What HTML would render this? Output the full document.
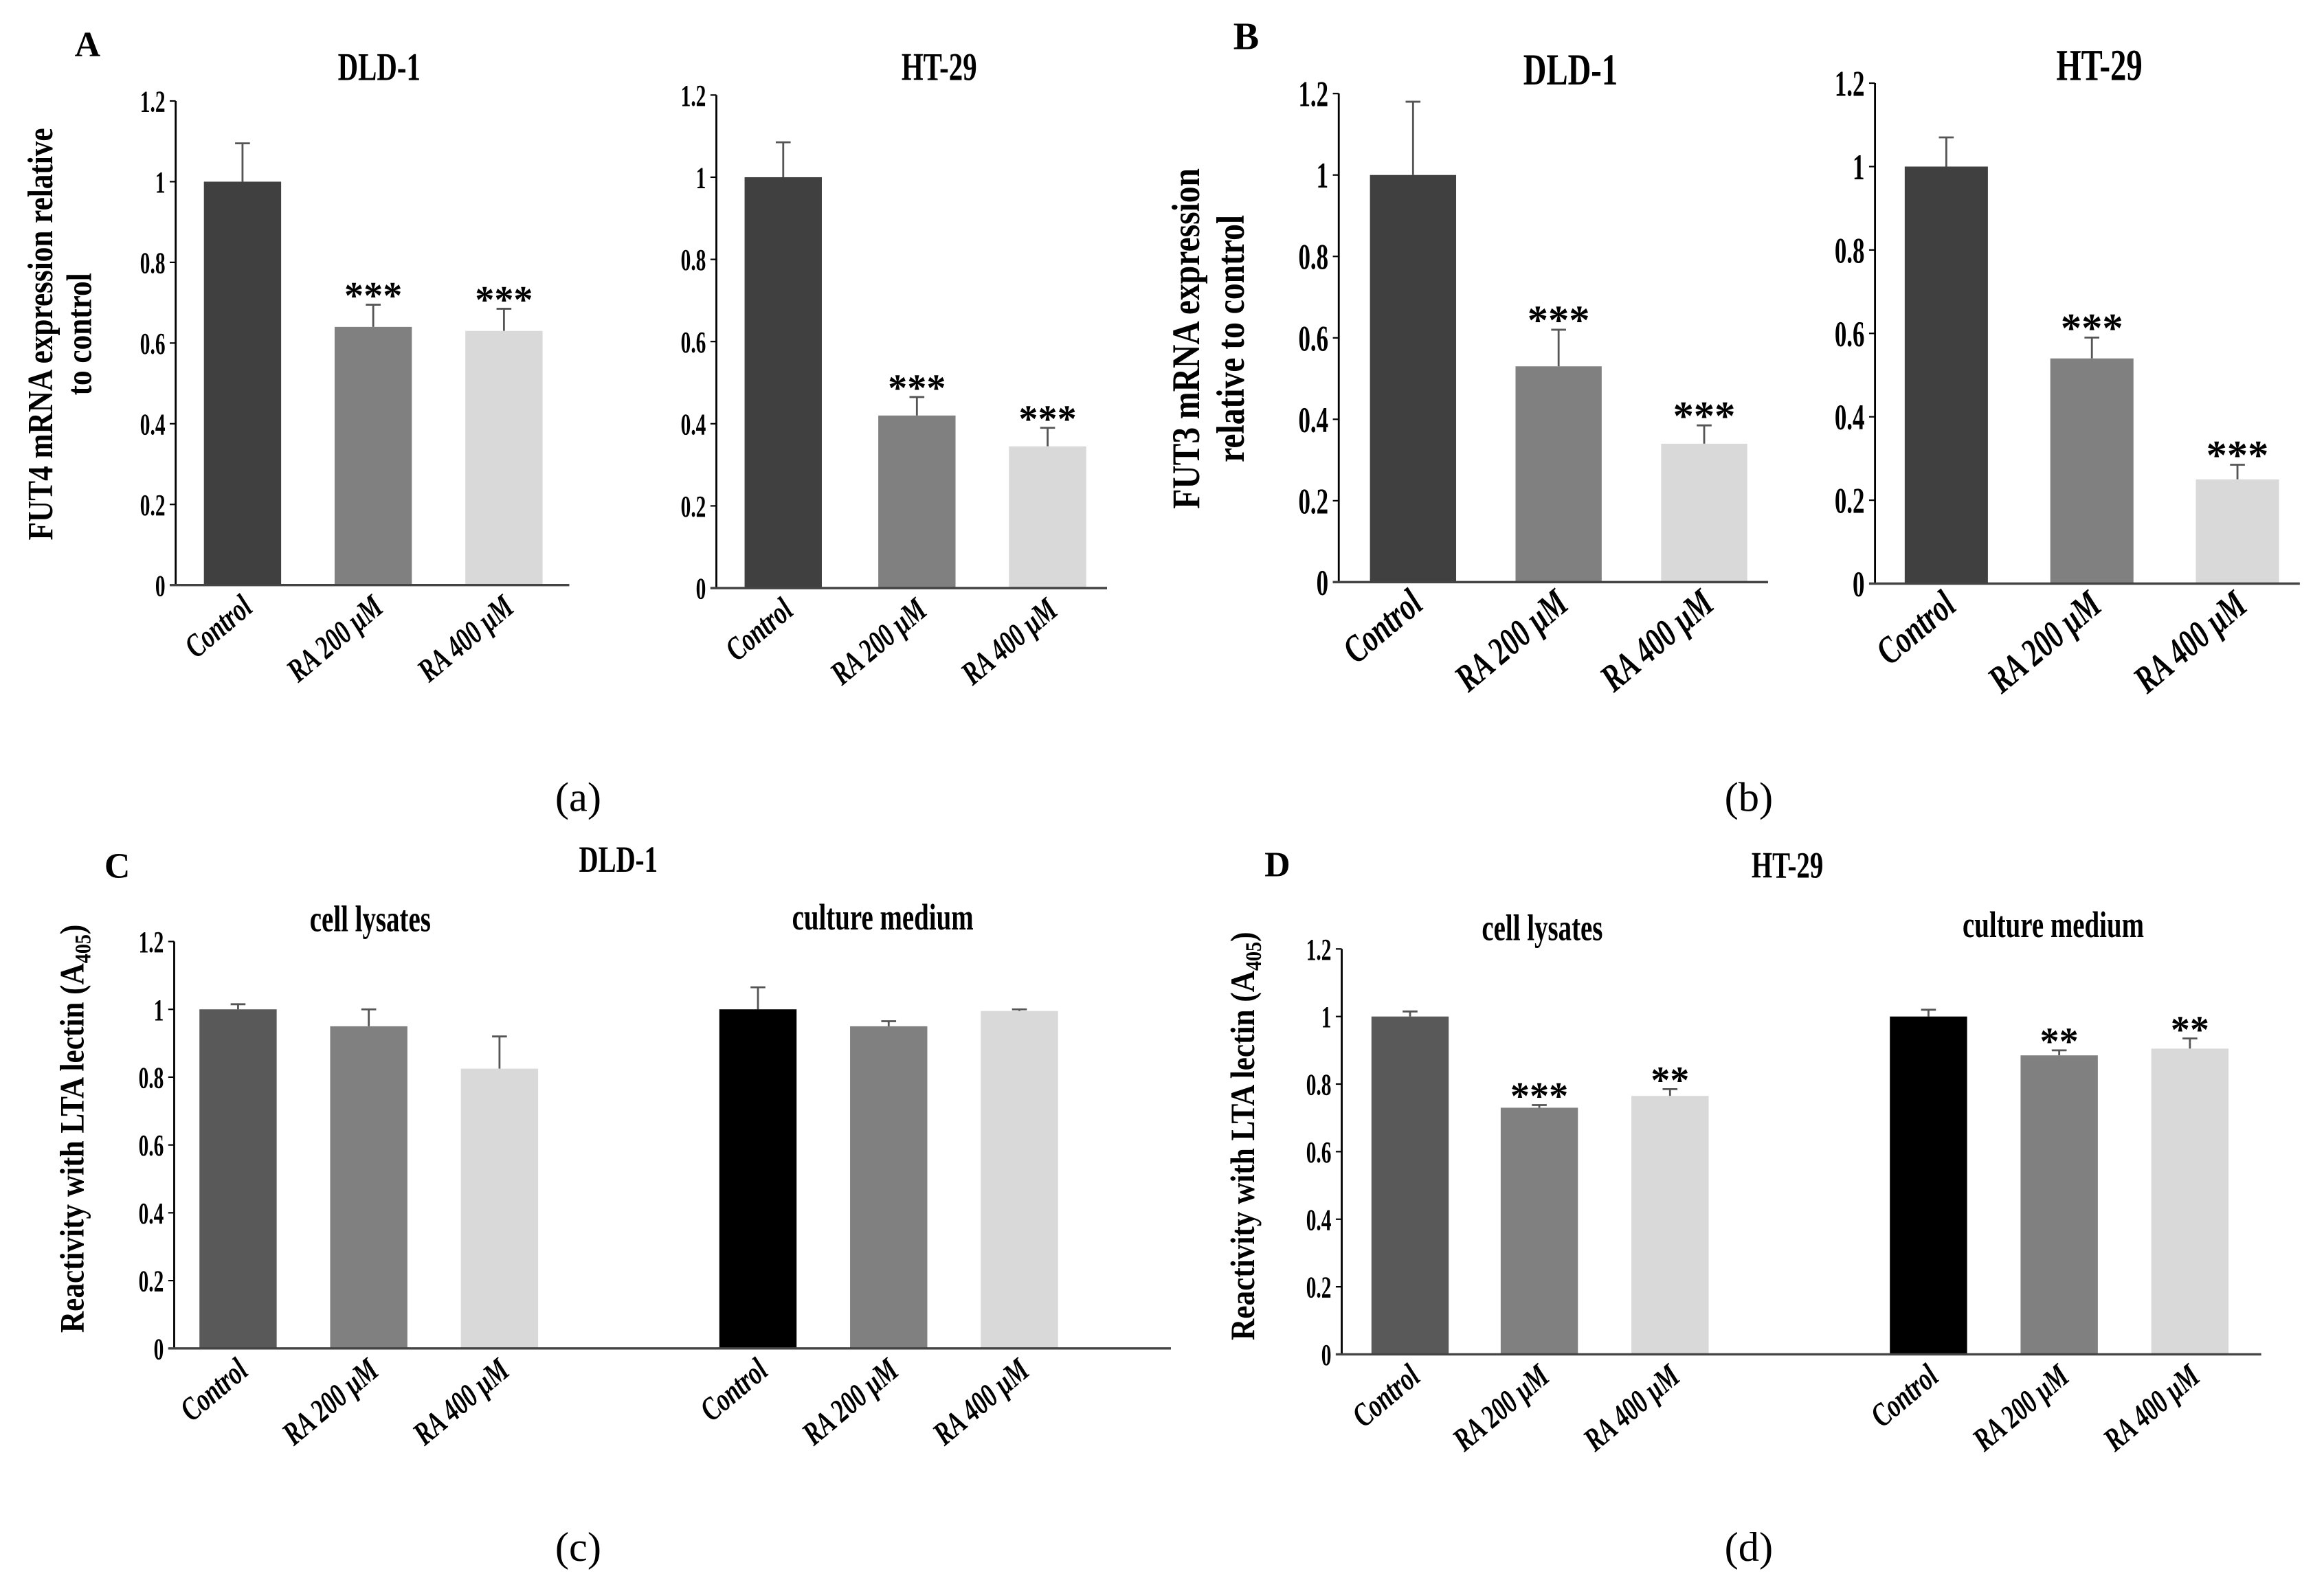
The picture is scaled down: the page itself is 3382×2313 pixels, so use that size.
<!DOCTYPE html>
<html><head><meta charset="utf-8"><style>
html,body{margin:0;padding:0;background:#fff;}
svg{display:block;}
text{font-family:"Liberation Serif",serif;font-weight:bold;fill:#000;}
</style></head>
<body>
<svg id="fig" width="3382" height="2313" viewBox="0 0 1564 1070" xmlns="http://www.w3.org/2000/svg">
<g>
<text x="50" y="38" font-size="24">A</text>
<text x="830" y="33" font-size="26">B</text>
<text x="70" y="591" font-size="24">C</text>
<text x="851" y="590" font-size="24">D</text>
<text x="389" y="546" font-size="28" text-anchor="middle" style="font-weight:normal">(a)</text>
<text x="1177" y="546" font-size="28" text-anchor="middle" style="font-weight:normal">(b)</text>
<text x="389" y="1051" font-size="28" text-anchor="middle" style="font-weight:normal">(c)</text>
<text x="1177" y="1051" font-size="28" text-anchor="middle" style="font-weight:normal">(d)</text>
<text transform="translate(35,225) rotate(-90) scale(1,1.2)" font-size="20" text-anchor="middle">FUT4 mRNA expression relative</text>
<text transform="translate(61,225) rotate(-90) scale(1,1.2)" font-size="20" text-anchor="middle">to control</text>
<text transform="translate(807,228) rotate(-90) scale(1,1.2)" font-size="22" text-anchor="middle">FUT3 mRNA expression</text>
<text transform="translate(837,228) rotate(-90) scale(1,1.2)" font-size="22" text-anchor="middle">relative to control</text>
<text transform="translate(56,760) rotate(-90) scale(1,1.15)" font-size="20" text-anchor="middle">Reactivity with LTA lectin (A<tspan font-size="13" dy="4">405</tspan><tspan dy="-4">)</tspan></text>
<text transform="translate(844,765) rotate(-90) scale(1,1.15)" font-size="20" text-anchor="middle">Reactivity with LTA lectin (A<tspan font-size="13" dy="4">405</tspan><tspan dy="-4">)</tspan></text>
<text transform="translate(416,587) scale(0.9,1.25)" font-size="20" text-anchor="middle">DLD-1</text>
<text transform="translate(249,627) scale(0.9,1.25)" font-size="20" text-anchor="middle">cell lysates</text>
<text transform="translate(594,626) scale(0.9,1.25)" font-size="20" text-anchor="middle">culture medium</text>
<text transform="translate(1203,591) scale(0.9,1.25)" font-size="20" text-anchor="middle">HT-29</text>
<text transform="translate(1038,633) scale(0.9,1.25)" font-size="20" text-anchor="middle">cell lysates</text>
<text transform="translate(1382,631) scale(0.9,1.25)" font-size="20" text-anchor="middle">culture medium</text>
</g>
</svg>
<script>
// Data arrays
const categories = ["Control", "RA 200 μM", "RA 400 μM"];
const yTicks = [0, 0.2, 0.4, 0.6, 0.8, 1, 1.2];
const tickLabels = ["0", "0.2", "0.4", "0.6", "0.8", "1", "1.2"];
const aDldValues = [1.0, 0.64, 0.63];
const aDldErrors = [0.095, 0.055, 0.055];
const aDldStars = ["", "***", "***"];
const aHtValues = [1.0, 0.42, 0.345];
const aHtErrors = [0.085, 0.045, 0.045];
const aHtStars = ["", "***", "***"];
const bDldValues = [1.0, 0.53, 0.34];
const bDldErrors = [0.18, 0.09, 0.045];
const bDldStars = ["", "***", "***"];
const bHtValues = [1.0, 0.54, 0.25];
const bHtErrors = [0.07, 0.05, 0.035];
const bHtStars = ["", "***", "***"];
const cValues = [1.0, 0.95, 0.825, 1.0, 0.95, 0.995];
const cErrors = [0.015, 0.05, 0.095, 0.065, 0.015, 0.005];
const cStars = ["", "", "", "", "", ""];
const dValues = [1.0, 0.73, 0.765, 1.0, 0.885, 0.905];
const dErrors = [0.015, 0.008, 0.02, 0.02, 0.015, 0.03];
const dStars = ["", "***", "**", "", "**", "**"];
const categories6 = ["Control", "RA 200 μM", "RA 400 μM", "Control", "RA 200 μM", "RA 400 μM"];

const NS = "http://www.w3.org/2000/svg";
const svg = document.getElementById("fig");
function mk(tag, attrs, parent) {
  const e = document.createElementNS(NS, tag);
  for (const k in attrs) e.setAttribute(k, attrs[k]);
  parent.appendChild(e);
  return e;
}
function panel(p) {
  const g = mk("g", {}, svg);
  
  
  const y = v => p.y0 - (v / 1.2) * (p.y0 - p.y12);
  if (p.title) {
    const t = mk("text", {transform: `translate(${p.tx},${p.ty}) scale(0.9,1.25)`, "font-size": p.tfs, "text-anchor": "middle"}, g);
    t.textContent = p.title;
    
    
  }
  yTicks.forEach((v, i) => {
    const yy = y(v);
    const tk = mk("line", {x1: p.ax - 4, x2: p.ax, y1: yy, y2: yy, stroke: "#000", "stroke-width": 1}, g);
    
    
    const tl = mk("text", {transform: `translate(${p.ax - 7},${yy + p.fs * 0.45}) scale(0.85,1.3)`, "font-size": p.fs, "text-anchor": "end"}, g);
    tl.textContent = tickLabels[i];
    
    
  });
  p.vals.forEach((v, i) => {
    const x = p.bx[i], w = p.bw, top = y(v);
    const cx = x + w / 2;
    const ey = y(v + p.errs[i]);
    const el = mk("line", {x1: cx, x2: cx, y1: ey, y2: top, stroke: "#555", "stroke-width": 1.3}, g);
    
    
    const cap = mk("line", {x1: cx - 5, x2: cx + 5, y1: ey, y2: ey, stroke: "#555", "stroke-width": 1.3}, g);
    
    
    const r = mk("rect", {x: x, y: top, width: w, height: p.y0 - top, fill: p.colors[i]}, g);
    
    
    if (p.stars[i]) {
      const s = mk("text", {x: cx, y: ey + p.sfs * 0.1, "font-size": p.sfs, "text-anchor": "middle"}, g);
      s.textContent = p.stars[i];
      
      
    }
    const lbl = mk("text", {transform: `translate(${cx + 8},${p.y0 + 17}) rotate(-40) scale(0.95,1.3)`, "font-size": p.cfs, "text-anchor": "end", "font-style": "italic"}, g);
    lbl.textContent = p.cats[i];
    
    
  });
  const ya = mk("line", {x1: p.ax, x2: p.ax, y1: p.y12, y2: p.y0, stroke: "#000", "stroke-width": 1.3}, g);
  
  
  const xa = mk("line", {x1: p.ax - 4, x2: p.xe, y1: p.y0, y2: p.y0, stroke: "#444", "stroke-width": 1.6}, g);
  
  
}
const c3 = ["#404040", "#808080", "#d9d9d9"];
panel({name: "chart-a-dld1", title: "DLD-1", tx: 255, ty: 54, tfs: 21, ax: 118, y0: 394, y12: 68, xe: 383, bx: [137, 225, 313], bw: 52, vals: aDldValues, errs: aDldErrors, stars: aDldStars, colors: c3, cats: categories, fs: 16, sfs: 26, cfs: 17});
panel({name: "chart-a-ht29", title: "HT-29", tx: 632, ty: 54, tfs: 21, ax: 482, y0: 396, y12: 64, xe: 745, bx: [501, 591, 679], bw: 52, vals: aHtValues, errs: aHtErrors, stars: aHtStars, colors: c3, cats: categories, fs: 16, sfs: 26, cfs: 17});
panel({name: "chart-b-dld1", title: "DLD-1", tx: 1057, ty: 57, tfs: 24, ax: 901, y0: 392, y12: 63, xe: 1190, bx: [922, 1020, 1118], bw: 58, vals: bDldValues, errs: bDldErrors, stars: bDldStars, colors: c3, cats: categories, fs: 19, sfs: 28, cfs: 20});
panel({name: "chart-b-ht29", title: "HT-29", tx: 1413, ty: 54, tfs: 24, ax: 1262, y0: 393, y12: 56, xe: 1548, bx: [1282, 1380, 1478], bw: 56, vals: bHtValues, errs: bHtErrors, stars: bHtStars, colors: c3, cats: categories, fs: 19, sfs: 28, cfs: 20});
panel({name: "chart-c-dld1", ax: 117, y0: 908, y12: 634, xe: 788, bx: [134, 222, 310, 484, 572, 660], bw: 52, vals: cValues, errs: cErrors, stars: cStars, colors: ["#595959", "#808080", "#d9d9d9", "#000000", "#808080", "#d9d9d9"], cats: categories6, fs: 16, sfs: 26, cfs: 17});
panel({name: "chart-d-ht29", ax: 903, y0: 912, y12: 639, xe: 1522, bx: [923, 1010, 1098, 1272, 1360, 1448], bw: 52, vals: dValues, errs: dErrors, stars: dStars, colors: ["#595959", "#808080", "#d9d9d9", "#000000", "#808080", "#d9d9d9"], cats: categories6, fs: 16, sfs: 26, cfs: 17});
</script>
</body></html>
